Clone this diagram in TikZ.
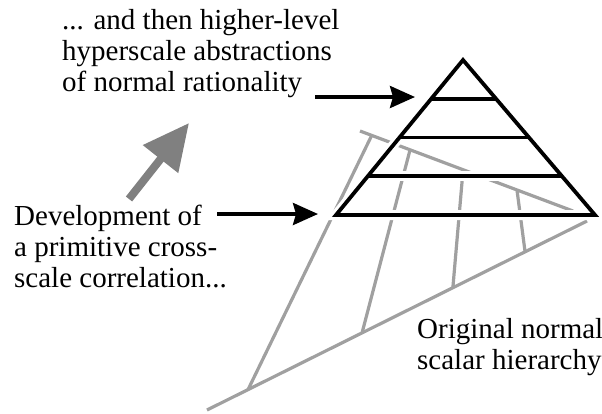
\documentclass[tikz,border=0pt]{standalone}
\usepackage{fontspec}
\setmainfont{Liberation Serif}
\newfontfamily\labelfont{Liberation Serif}
\usetikzlibrary{arrows.meta,calc}
\definecolor{railgray}{RGB}{160,160,160}
\definecolor{arrowgray}{RGB}{128,128,128}

\begin{document}
\begin{tikzpicture}[x=1pt,y=-1pt,
    rail/.style={railgray, line width=3.2pt},
    level/.style={line width=3.8pt, line join=miter},
    halo/.style={white, line width=10pt, line join=miter},
    pointer/.style={line width=3.5pt, -{Stealth[length=25pt,width=22pt,inset=3pt]}},
    label/.style={align=left, anchor=base west, inner sep=0pt, font=\labelfont\fontsize{29}{30.7}\selectfont}]
    \useasboundingbox (0,0) rectangle (602,413);

    % original normal scalar hierarchy
    \coordinate (b0) at (207,410); \coordinate (b1) at (587,221);
    \coordinate (t0) at (360,131); \coordinate (t1) at (573,211);
    \draw[rail] (b0) -- (b1);
    \draw[rail] (t0) -- (t1);
    \foreach \s/\r in {0.055/0.108, 0.235/0.408, 0.484/0.647, 0.737/0.837}
        \draw[rail] ($(t0)!\s!(t1)$) -- ($(b0)!\r!(b1)$);

    % pyramid of abstraction levels
    \coordinate (apex) at (463,60); \coordinate (bl) at (336,215); \coordinate (br) at (595,215);
    \foreach \st in {halo, level} {
        \draw[\st] (apex) -- (bl) -- (br) -- cycle;
        \foreach \f in {0.25, 0.5, 0.75}
            \draw[\st] ($(apex)!\f!(bl)$) -- ($(apex)!\f!(br)$);
    }

    % base anchor sits on the last line
    \node[label] (upper) at (62,91) {... and then higher-level\\hyperscale abstractions\\of normal rationality};
    \node[label] (lower) at (14,287) {Development of\\a primitive cross-\\scale correlation...};
    \node[label] (orig) at (417,369) {Original normal\\scalar hierarchy};

    \coordinate (upper start) at (315,97); \coordinate (upper tip) at (415,97);
    \coordinate (lower start) at (217,214); \coordinate (lower tip) at (318,214);
    \coordinate (dev tail) at (129,199); \coordinate (dev tip) at (189,123);
    \draw[pointer] (upper start) -- (upper tip);
    \draw[pointer] (lower start) -- (lower tip);
    \draw[arrowgray, line width=8pt, -{Triangle[length=46pt,width=43pt]}] (dev tail) -- (dev tip);
\end{tikzpicture}
\end{document}
